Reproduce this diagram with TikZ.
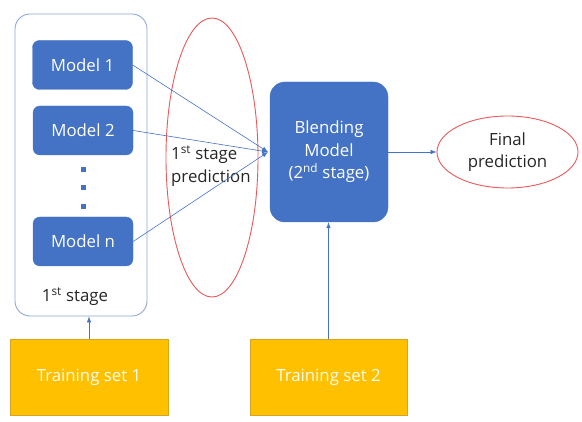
\documentclass[tikz,border=0pt]{standalone}
\usepackage{fontspec}
\setmainfont{Open Sans}
\usetikzlibrary{arrows.meta,shapes.geometric}
\definecolor{mblue}{HTML}{4472C4}
\definecolor{frameblue}{HTML}{8FA7D6}
\definecolor{ered}{HTML}{E8595A}
\definecolor{gold}{HTML}{FFC000}
\definecolor{goldline}{HTML}{D9A520}
\definecolor{txt}{HTML}{262626}
\begin{document}
\begin{tikzpicture}[x=1pt,y=-1pt,
  font=\fontsize{16.8}{22.5}\selectfont,
  model/.style={draw=mblue,fill=mblue,rounded corners=7pt,minimum width=100pt,minimum height=49pt,inner sep=0pt,text=white},
  frame/.style={draw=frameblue,line width=0.9pt,rounded corners=15pt,minimum width=132pt,minimum height=302pt,inner sep=0pt},
  redell/.style={ellipse,draw=ered,line width=0.9pt,inner sep=0pt},
  tset/.style={draw=goldline,fill=gold,minimum height=76pt,inner sep=0pt,text=white!95!gold},
  conn/.style={draw=mblue,line width=0.6pt,-{Latex[length=6pt,width=4.5pt]}},
  dot/.style={fill=mblue,minimum size=5pt,inner sep=0pt}
]
\useasboundingbox (0,0) rectangle (582,422);
\node[frame] (outer) at (81,165) {};
\node[model] (m1) at (82.5,65) {Model 1};
\node[model] (m2) at (83,130.5) {Model 2};
\node[model] (mn) at (83,241.5) {Model n};
\node[dot] (d1) at (83,170) {};
\node[dot] (d2) at (83,188) {};
\node[dot] (d3) at (83,207) {};
\node[text=txt] (lab1) at (75,297) {1\textsuperscript{st} stage};
\node[redell,minimum width=92pt,minimum height=279pt] (pred) at (212,157.5) {};
\node[text=txt,align=left,anchor=west,inner sep=0pt] (predtxt) at (171,166) {1\textsuperscript{st} stage\\prediction};
\coordinate (c) at (268,152);
\node[draw=mblue,fill=mblue,rounded corners=15pt,minimum width=118pt,minimum height=140pt,inner sep=0pt,text=white,align=center] (blend) at (329,152) {Blending\\Model\\(2\textsuperscript{nd} stage)};
\node[redell,minimum width=141pt,minimum height=72pt,text=txt,align=center] (final) at (507.5,152) {Final\\prediction};
\node[tset,minimum width=158pt] (ts1) at (89,377) {Training set 1};
\node[tset,minimum width=157pt] (ts2) at (328.5,377) {Training set 2};
\draw[conn] (m1.east) -- (c);
\draw[conn] (m2.east) -- (c);
\draw[conn] (mn.east) -- (c);
\draw[conn] (blend.east) -- (final.west);
\draw[conn] (ts1.north) -- (ts1.north |- outer.south);
\draw[conn] (ts2.north) -- (ts2.north |- blend.south);
\end{tikzpicture}
\end{document}
